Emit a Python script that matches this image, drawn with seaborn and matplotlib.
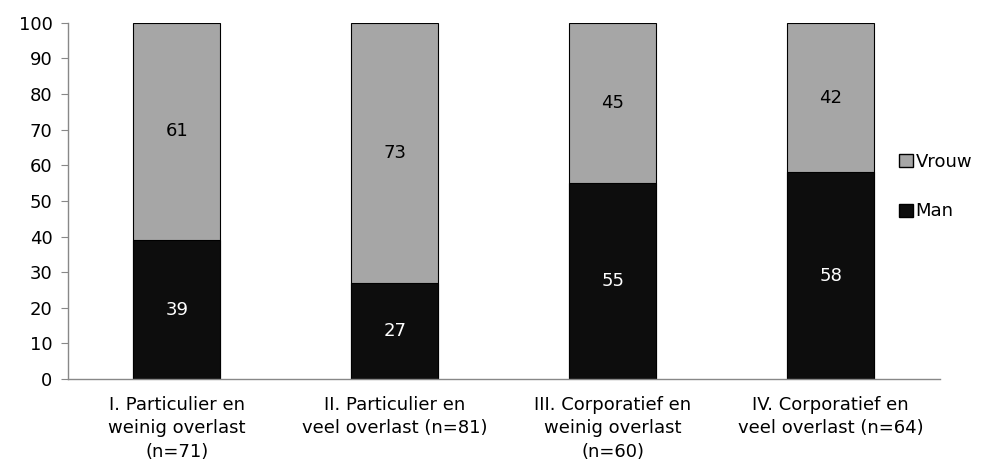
import numpy as np
import pandas as pd
import matplotlib
matplotlib.use("Agg")
import matplotlib.pyplot as plt
import seaborn as sns
from matplotlib.patches import Patch

categories = ["I. Particulier en\nweinig overlast\n(n=71)",
              "II. Particulier en\nveel overlast (n=81)",
              "III. Corporatief en\nweinig overlast\n(n=60)",
              "IV. Corporatief en\nveel overlast (n=64)"]
man = [39, 27, 55, 58]
vrouw = [61, 73, 45, 42]

black = "#0d0d0d"
grey = "#a6a6a6"
fs = 13

sns.set_style("white")
plt.rcParams['font.family'] = ['DejaVu Sans']
plt.rcParams['text.color'] = 'black'
plt.rcParams['xtick.labelcolor'] = 'black'
plt.rcParams['ytick.labelcolor'] = 'black'

df = pd.DataFrame({"cat": categories, "Man": man, "Vrouw": vrouw})
df["total"] = df["Man"] + df["Vrouw"]

fig = plt.figure(figsize=(9.84, 4.75), dpi=100)
ax = fig.add_axes([0.069, 0.202, 0.886, 0.750])

# grijs = totaal, zwart eroverheen
sns.barplot(data=df, x="cat", y="total", color=grey, width=0.4,
            edgecolor="black", linewidth=0.8, saturation=1, ax=ax)
sns.barplot(data=df, x="cat", y="Man", color=black, width=0.4,
            edgecolor="black", linewidth=0.8, saturation=1, ax=ax)

for i, (m, v) in enumerate(zip(man, vrouw)):
    ax.text(i, m / 2, str(m), ha="center", va="center", color="white", fontsize=fs)
    ax.text(i, m + v / 2, str(v), ha="center", va="center", color="black", fontsize=fs)

ax.set_xlim(-0.5, 3.5)
ax.set_ylim(0, 100)
ax.set_yticks(range(0, 101, 10))
ax.set_xlabel("")
ax.set_ylabel("")
ax.set_xticks(range(4))
ax.set_xticklabels(categories, fontsize=fs, linespacing=1.4, color="black")
ax.set_xticks(np.arange(-0.5, 4, 1), minor=True)
ax.tick_params(axis="x", which="major", length=0, pad=12)
ax.tick_params(axis="x", which="minor", length=5, color="#888888", direction="out")
ax.tick_params(axis="y", length=5, color="#888888", direction="out", labelsize=fs, pad=6,
               labelcolor="black")
ax.tick_params(axis="both", bottom=True, left=True)

for s in ["top", "right"]:
    ax.spines[s].set_visible(False)
for s in ["left", "bottom"]:
    ax.spines[s].set_color("#888888")
    ax.spines[s].set_linewidth(1)

handles = [Patch(facecolor=grey, edgecolor="black", label="Vrouw"),
           Patch(facecolor=black, edgecolor="black", label="Man")]
leg = fig.legend(handles=handles, loc="center left", bbox_to_anchor=(0.914, 0.607),
                 frameon=False, fontsize=fs, handlelength=0.75, handleheight=0.75,
                 handletextpad=0.15, labelspacing=1.75, borderpad=0, borderaxespad=0)
for t in leg.get_texts():
    t.set_color("black")

fig.savefig("out.png", dpi=100)
